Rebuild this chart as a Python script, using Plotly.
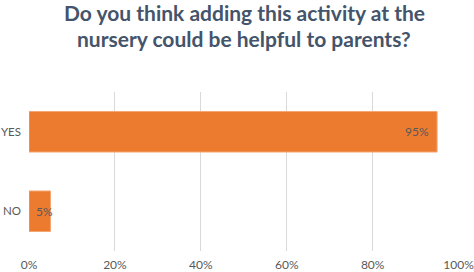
import plotly.graph_objects as go

categories = ["YES", "NO"]
values = [0.95, 0.05]
tick_vals = [0, 0.2, 0.4, 0.6, 0.8, 1.0]
tick_text = ["0%", "20%", "40%", "60%", "80%", "100%"]
title_lines = ["Do you think adding this activity at the",
               "nursery could be helpful to parents?"]

fig = go.Figure()
fig.add_trace(go.Bar(
    x=values, y=categories, orientation="h",
    marker=dict(color="#ED7B2F", line=dict(color="#F4A673", width=1)),
    width=0.51,
    hoverinfo="skip",
))
for cat, v in zip(categories, values):
    fig.add_annotation(
        x=v, y=cat, xref="x", yref="y", text=f"{v:.0%}", showarrow=False,
        xanchor="right", xshift=-6 if v > 0.1 else 5,
        font=dict(family="Lato", size=12, color="#595959"),
    )
# title as two lines (pixel offsets above the plot area top)
for i, line in enumerate(title_lines):
    fig.add_annotation(
        x=0.5, y=1.0, xref="paper", yref="paper", yshift=80 - 26 * i, yanchor="middle",
        text=line, showarrow=False, align="center",
        font=dict(family="Lato", size=21, color="#44546A", weight="bold"),
    )
fig.update_layout(
    width=474, height=272,
    margin=dict(l=29, r=15, t=92, b=21),
    paper_bgcolor="white", plot_bgcolor="white",
    showlegend=False,
    xaxis=dict(range=[0, 1.001], tickvals=tick_vals, ticktext=tick_text,
               showgrid=True, gridcolor="#D9D9D9", gridwidth=1, zeroline=False,
               showline=False, ticks="", automargin=False,
               ticklabeloverflow="allow", ticklabelstandoff=5,
               tickfont=dict(family="Lato", size=12, color="#595959")),
    yaxis=dict(categoryorder="array", categoryarray=categories[::-1],
               range=[-0.5, 1.5], showgrid=False, zeroline=False, showline=False,
               ticks="", ticklabelstandoff=7, automargin=False,
               tickfont=dict(family="Lato", size=11.5, color="#595959")),
)
fig.write_html("out.html", config={"displayModeBar": False},
               post_script="document.body.style.margin='0';document.body.style.overflow='hidden';")
